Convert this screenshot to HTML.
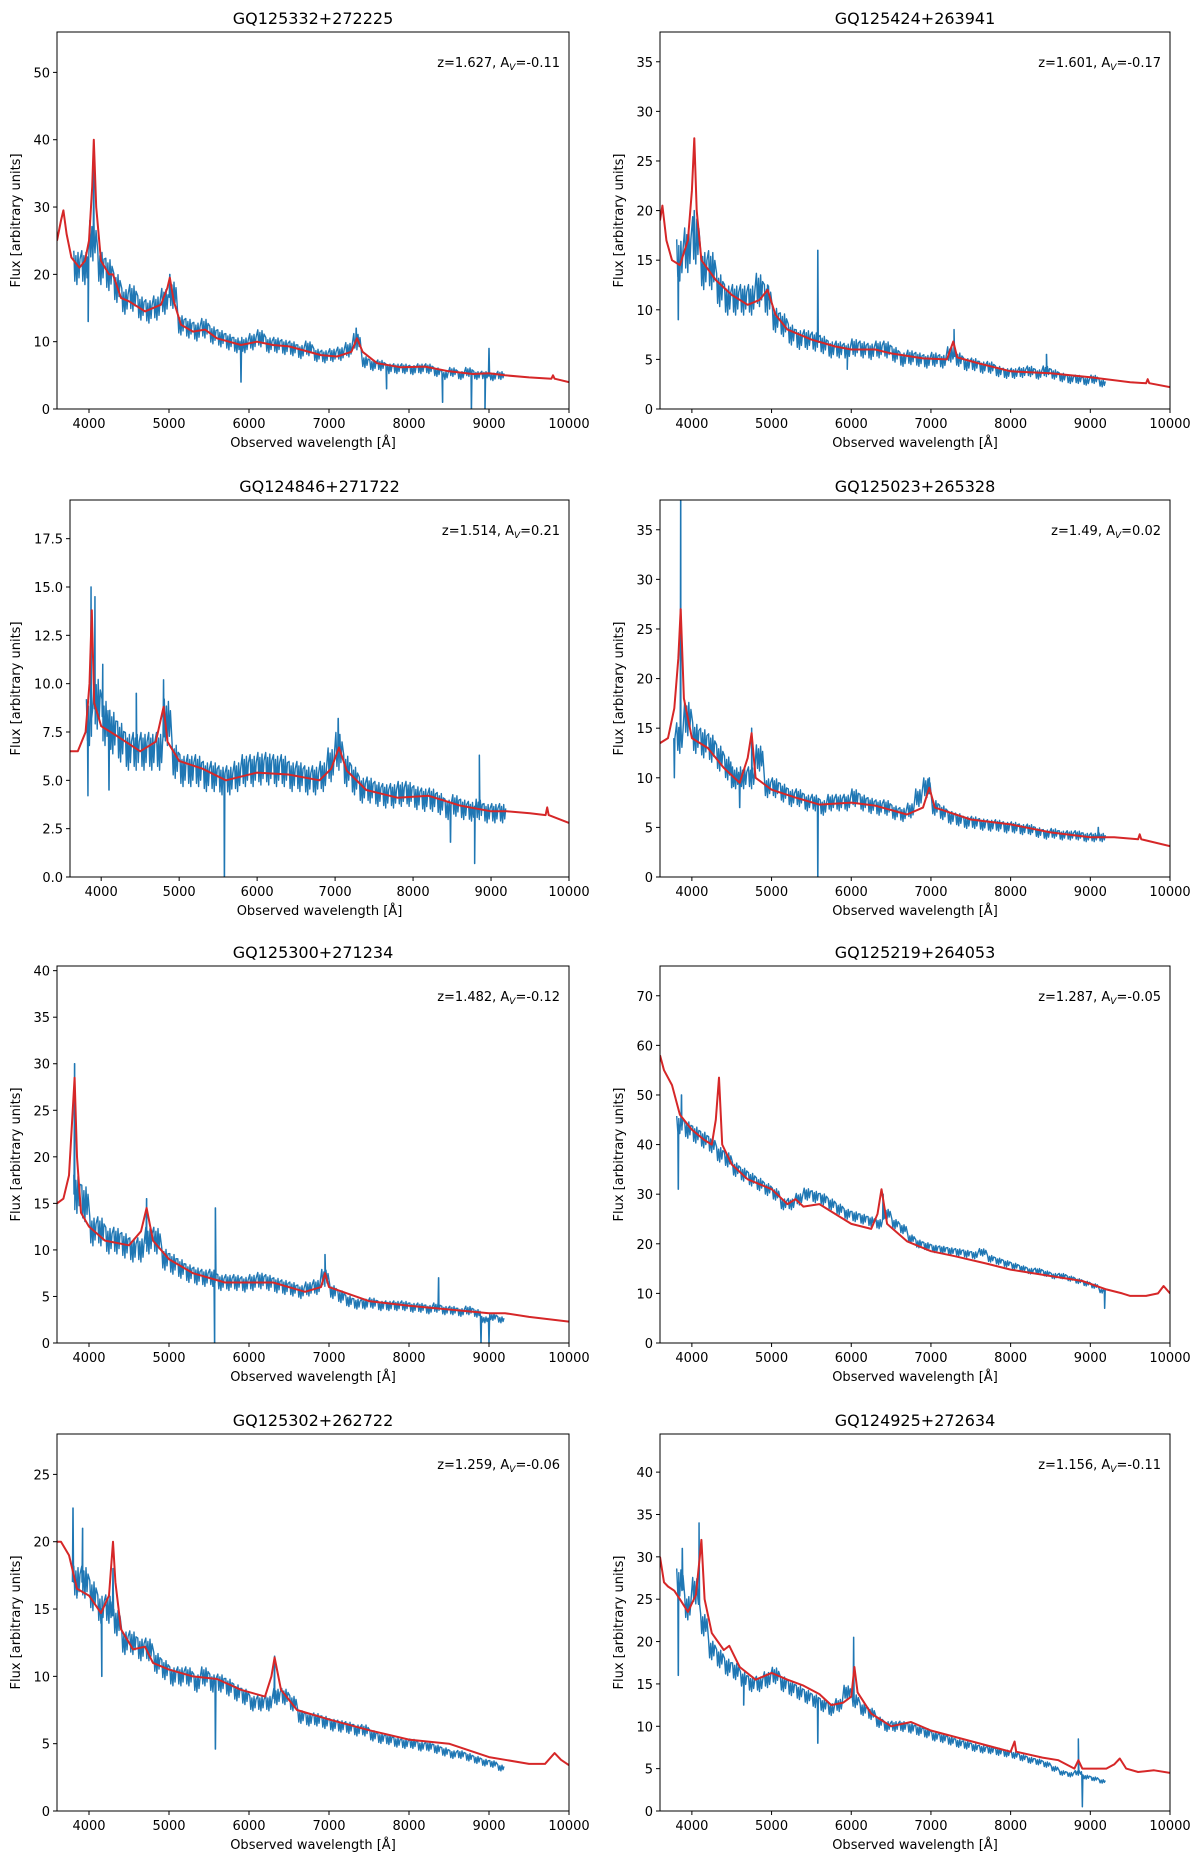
<!DOCTYPE html>
<html><head><meta charset="utf-8"><style>
html,body{margin:0;padding:0;background:#fff;}
svg{display:block;font-family:"DejaVu Sans","Liberation Sans",sans-serif;}
</style></head><body>
<svg id="fig" width="1200" height="1866" viewBox="0 0 1200 1866" xmlns="http://www.w3.org/2000/svg"></svg>
<script>
const titles=["GQ125332+272225","GQ125424+263941","GQ124846+271722","GQ125023+265328","GQ125300+271234","GQ125219+264053","GQ125302+262722","GQ124925+272634"];
const zLabels=["1.627","1.601","1.514","1.49","1.482","1.287","1.259","1.156"];
const avLabels=["-0.11","-0.17","0.21","0.02","-0.12","-0.05","-0.06","-0.11"];
const yMax=[56,38,19.5,38,40.5,76,28,44.5];
const yTicks=[[0,10,20,30,40,50],[0,5,10,15,20,25,30,35],[0,2.5,5,7.5,10,12.5,15,17.5],[0,5,10,15,20,25,30,35],[0,5,10,15,20,25,30,35,40],[0,10,20,30,40,50,60,70],[0,5,10,15,20,25],[0,5,10,15,20,25,30,35,40]];
const yTickDecimals=[0,0,1,0,0,0,0,0];
const xTicks=[4000,5000,6000,7000,8000,9000,10000];
const noiseFrac=[0.12,0.14,0.15,0.11,0.13,0.04,0.07,0.06];
const waveB=[3850,3950,4050,4150,4250,4350,4450,4550,4650,4750,
4850,4950,5050,5150,5250,5350,5450,5550,5650,5750,
5850,5950,6050,6150,6250,6350,6450,6550,6650,6750,
6850,6950,7050,7150,7250,7350,7450,7550,7650,7750,
7850,7950,8050,8150,8250,8350,8450,8550,8650,8750,
8850,8950,9050,9150];
const blue1=[21,21,25,21,20,18,16,16.5,15,14.5, 15,16,17,12.5,12,11.5,12,11,10.5,10, 9.5,9.5,10,10.5,9.5,9.5,9.2,9,8.5,9, 8,7.8,8,8.2,8.8,10,7,6.5,6.5,6, 6,6,5.8,6,6,5.5,5,5.5,5,5.5, 5,5,4.8,5];
const blue2=[15,16,17,14,14,12,11,11,11,11, 12,11,9,8.5,7.5,7,7,6.8,6.5,6, 6,5.8,6.2,6,5.8,6,6,5.5,5,5.2, 5,4.8,5,4.8,5.5,5,4.5,4.5,4.2,4.2, 3.8,3.6,3.6,3.7,3.8,3.5,3.8,3.5,3.2,3, 3,2.8,3,2.6];
const blue3=[8,9,8,7.5,7,6.5,6.5,6.5,6.5,6.5, 8,6,5.5,5.5,5.5,5.2,5.2,5,5,5.2, 5.5,5.5,5.6,5.6,5.5,5.5,5.2,5.2,5,5, 5.2,5.8,6.5,5.5,5,4.5,4.5,4.3,4.2,4.2, 4.3,4.3,4.1,4,4,3.8,3.5,3.7,3.5,3.4, 3.5,3.3,3.3,3.3];
const blue4=[14,16,14,13.5,13,12,11,10,10,10, 12,9,9,8.5,8,8,7.5,7.5,7,7.5, 7.5,7.5,8,7.5,7.2,7,7,6.5,6.3,6.7, 8,9,7,6.5,6,5.8,5.5,5.5,5.3,5.2, 5.2,5,5,4.8,4.8,4.5,4.3,4.4,4.2,4.2, 4.2,4,4,4];
const blue5=[16,15,12,12,11,11,10.5,10,10,11, 11,9,8.5,8,7.5,7.2,7,7,6.5,6.5, 6.5,6.3,6.5,6.7,6.5,6.2,6,5.8,5.5,5.8, 6,7,5.5,5,4.5,4.2,4.2,4.3,4,4, 4,4,3.8,3.8,3.6,3.8,3.5,3.5,3.3,3.5, 3.2,2.5,2.8,2.5];
const blue6=[44,43,42,41,40,38,37,35,34,33, 32,31,30,28,28,29,30,29.5,29,28, 27,26,25.5,25,24.5,24,26,24,23,21, 20,19.5,19,18.8,18.5,18.3,18,17.7,18.3,17, 16.5,16,15.5,15,14.5,14.5,14,13.5,13.5,13, 12.5,12,11.5,10.5];
const blue7=[17,17,16,15,15,14,12.5,12.5,12,12, 11,10.5,10,10,10,9.5,10,9.5,9.5,9.2, 8.8,8.5,8,8,8,8.5,8.5,8,7,6.8, 6.8,6.6,6.4,6.3,6.2,6,6,5.6,5.4,5.3, 5.1,5,5,4.8,4.8,4.6,4.4,4.2,4.2,4, 3.8,3.6,3.5,3.2];
const blue8=[27,24,26,22,19,18,17,16.5,15.5,15, 15,15.5,16,15,14.5,14,13.5,13,12.5,12, 12.5,14,13,12,11.5,10.5,10,10,10,9.8, 9.5,9.2,8.8,8.6,8.3,8,7.8,7.5,7.3,7.2, 7,6.8,6.6,6.3,6,5.8,5.5,5,4.5,4.3, 4.5,4,3.8,3.5];
const blueSeries=[blue1,blue2,blue3,blue4,blue5,blue6,blue7,blue8];
const spikeW1=[3990,4060,5010,5900,7340,7720,8420,8780,8950,9000];
const spikeF1=[13,36,20,4,12,3,1,0,0,9];
const spikeW2=[3830,4030,4950,5580,5950,7290,8450];
const spikeF2=[9,20,12.5,16,4,8,5.5];
const spikeW3=[3830,3870,3920,4020,4100,4450,4800,5580,7040,8480,8790,8850];
const spikeF3=[4.2,15,14.5,11,4.5,9.5,10.2,0,8.2,1.8,0.7,6.3];
const spikeW4=[3780,3860,4500,4600,4750,5580,6980,9100];
const spikeF4=[10,38,9,7,15,0,10,5];
const spikeW5=[3820,4720,5570,5580,6950,8370,8900,9000];
const spikeF5=[30,15.5,0,14.5,9.5,7,0,0];
const spikeW6=[3830,3870,6400,9180];
const spikeF6=[31,50,30,7];
const spikeW7=[3800,3850,3920,4160,4300,5580,6320];
const spikeF7=[22.5,16,21,10,18,4.6,11.5];
const spikeW8=[3830,3880,4090,4650,5580,6030,8850,8900];
const spikeF8=[16,31,34,12.5,8,20.5,8.5,0.5];
const spikeWaves=[spikeW1,spikeW2,spikeW3,spikeW4,spikeW5,spikeW6,spikeW7,spikeW8];
const spikeFluxes=[spikeF1,spikeF2,spikeF3,spikeF4,spikeF5,spikeF6,spikeF7,spikeF8];
const redW1=[3600,3650,3680,3720,3780,3880,3950,4000,4040,4060,4090,4150,4250,4300,4400,4500,4700,4900,4980,5010,5060,5150,5300,5450,5600,5900,6100,6300,6500,6900,7100,7280,7350,7420,7600,7900,8200,8500,8800,9000,9200,9500,9780,9800,9820,10000];
const redF1=[25,28,29.5,26,22.5,21,22,25,33,40,30,22,20,20,16.5,16,14.5,15.5,18,19.5,16,12.5,11.5,11.8,10.5,9.5,10,9.5,9.3,8,7.8,8.5,10.5,8.5,6.8,6.2,6.3,5.6,5.2,5.3,5,4.7,4.5,5,4.5,4];
const redW2=[3600,3630,3680,3750,3850,3950,4000,4030,4060,4120,4300,4500,4700,4850,4950,5050,5200,5500,5800,6000,6300,6500,6900,7200,7280,7330,7600,8000,8500,9000,9200,9500,9700,9720,9740,10000];
const redF2=[19,20.5,17,15,14.5,17,22,27.3,20,15,13,11.5,10.5,11,12,9.5,8,7,6.3,6,6,5.6,5.1,5,6.8,5.2,4.6,3.8,3.6,3.2,3,2.7,2.6,3,2.6,2.2];
const redW3=[3600,3700,3800,3850,3880,3910,4000,4200,4500,4700,4800,4850,5000,5300,5600,6000,6400,6800,6950,7050,7150,7400,7800,8200,8600,9000,9200,9500,9700,9720,9740,10000];
const redF3=[6.5,6.5,7.5,10,13.8,9,7.8,7.3,6.5,7,8.8,7,6,5.6,5,5.4,5.3,5,5.6,6.7,5.5,4.5,4.1,4.2,3.7,3.4,3.4,3.3,3.2,3.6,3.2,2.8];
const redW4=[3600,3700,3780,3830,3860,3900,4000,4200,4400,4600,4700,4750,4800,5000,5300,5600,6000,6300,6700,6900,6980,7050,7500,8000,8500,9000,9300,9600,9620,9640,10000];
const redF4=[13.5,14,17,22,27,18,14,13,11,9.5,12,14.5,10,8.8,8,7.3,7.5,7.2,6.3,7,9,7,5.8,5.3,4.5,4,4,3.8,4.3,3.8,3.1];
const redW5=[3600,3680,3750,3790,3820,3850,3900,4000,4200,4500,4650,4720,4800,5000,5300,5700,6000,6300,6700,6900,6950,7000,7500,8000,8500,9000,9200,9500,10000];
const redF5=[15,15.5,18,24,28.5,20,14,12.5,11,10.5,12,14.5,11,9,7.5,6.5,6.5,6.5,5.5,6,7.5,6,4.5,4,3.6,3.2,3.2,2.8,2.3];
const redW6=[3600,3650,3750,3850,4000,4150,4250,4300,4340,4380,4500,4700,5000,5200,5300,5400,5600,5800,6000,6250,6330,6380,6450,6700,7000,7300,7700,8000,8500,8900,9200,9400,9500,9700,9850,9920,10000];
const redF6=[58,55,52,46,43,41,40,45,53.5,40,36,33,31,28,29,27.5,28,26,24,23,26,31,24,20.5,18.5,17.5,16,14.8,13.5,12.5,10.8,10,9.5,9.5,10,11.5,10];
const redW7=[3600,3650,3750,3850,4000,4150,4250,4300,4330,4400,4550,4700,4800,5000,5300,5600,5900,6200,6280,6320,6400,6600,7000,7500,8000,8500,9000,9200,9500,9700,9820,9900,10000];
const redF7=[20,20,19,16.5,16,14.7,16,20,17,13.5,12,12.2,11,10.5,10,9.8,9,8.5,10,11.4,9,7.5,6.8,6,5.3,5,4,3.8,3.5,3.5,4.3,3.8,3.4];
const redW8=[3600,3650,3700,3780,3850,3950,4050,4100,4120,4160,4250,4400,4470,4600,4800,5000,5200,5400,5600,5750,5900,6000,6040,6080,6250,6500,6750,7000,7400,7800,8000,8050,8070,8400,8600,8800,8850,8900,9200,9300,9370,9450,9600,9800,10000];
const redF8=[30,27,26.5,26,25,23.5,25.5,30,32,25,21,19,19.5,17,15.5,16.3,15.5,14.8,13.8,12.5,12.8,13.5,17,14,11.5,10,10.5,9.5,8.5,7.5,7,8.2,7,6.3,6,5,6,5,5,5.5,6.2,5,4.6,4.8,4.5];
const redWaves=[redW1,redW2,redW3,redW4,redW5,redW6,redW7,redW8];
const redFluxes=[redF1,redF2,redF3,redF4,redF5,redF6,redF7,redF8];

const NS="http://www.w3.org/2000/svg";
const svg=document.getElementById('fig');
const colL=[[57,569],[70,569],[57,569],[57,569]];
const colR=[660,1170];
const rowTop=[32,500,966,1434];
const axH=377;
const XMIN=3600,XMAX=10000;
function mk(tag,attrs,parent){const e=document.createElementNS(NS,tag);for(const k in attrs)e.setAttribute(k,attrs[k]);(parent||svg).appendChild(e);return e;}
function interp(ws,fs,w){if(w<=ws[0])return fs[0];for(let k=1;k<ws.length;k++){if(w<=ws[k]){const t=(w-ws[k-1])/(ws[k]-ws[k-1]);return fs[k-1]+t*(fs[k]-fs[k-1]);}}return fs[fs.length-1];}

for(let i=0;i<8;i++){
  const row=Math.floor(i/2),col=i%2;
  const x0=col===0?colL[row][0]:colR[0];
  const x1=col===0?colL[row][1]:colR[1];
  const y0=rowTop[row],y1=rowTop[row]+axH;
  const sx=v=>x0+(v-XMIN)/(XMAX-XMIN)*(x1-x0);
  const sy=v=>y1-v/yMax[i]*(y1-y0);
  const g=mk('g',{});
  
  
  const clipId='clip'+i;
  const cp=mk('clipPath',{id:clipId},g);
  mk('rect',{x:x0,y:y0,width:x1-x0,height:y1-y0},cp);
  const b=blueSeries[i],nf=noiseFrac[i];
  const pts=[];
  for(let k=0;k<waveB.length;k++){
    const w=waveB[k],v=b[k],a=v*nf;
    [[-40,1],[-27,-0.8],[-14,0.7],[-1,-1],[12,0.9],[25,-0.6],[38,0.5]].forEach(o=>pts.push([w+o[0],v+a*o[1]]));
  }
  const sw=spikeWaves[i],sf=spikeFluxes[i];
  for(let k=0;k<sw.length;k++){
    const base=interp(waveB,b,sw[k]);
    pts.push([sw[k]-7,base],[sw[k]-1,sf[k]],[sw[k]+1,sf[k]],[sw[k]+7,base]);
  }
  pts.sort((p,q)=>p[0]-q[0]);
  let d='';
  pts.forEach((p,j)=>{d+=(j?'L':'M')+sx(p[0]).toFixed(1)+' '+sy(p[1]).toFixed(1);});
  const bl=mk('path',{d:d,fill:'none',stroke:'#1f77b4','stroke-width':1.4,'stroke-linejoin':'round','clip-path':'url(#'+clipId+')'},g);
  
  
  d='';
  const rw=redWaves[i],rf=redFluxes[i];
  for(let k=0;k<rw.length;k++){d+=(k?'L':'M')+sx(rw[k]).toFixed(1)+' '+sy(rf[k]).toFixed(1);}
  const rl=mk('path',{d:d,fill:'none',stroke:'#d62728','stroke-width':2,'stroke-linejoin':'round','clip-path':'url(#'+clipId+')'},g);
  
  
  const fr=mk('rect',{x:x0,y:y0,width:x1-x0,height:y1-y0,fill:'none',stroke:'#000','stroke-width':1},g);
  
  
  xTicks.forEach(t=>{
    const x=sx(t);
    mk('line',{x1:x,x2:x,y1:y1,y2:y1+4,stroke:'#000','stroke-width':1},g);
    const tx=mk('text',{x:x,y:y1+19,'font-size':13,'text-anchor':'middle',fill:'#000'},g);
    tx.textContent=t;
    
    
  });
  yTicks[i].forEach(t=>{
    const y=sy(t);
    mk('line',{x1:x0-4,x2:x0,y1:y,y2:y,stroke:'#000','stroke-width':1},g);
    const tx=mk('text',{x:x0-7,y:y+5,'font-size':13,'text-anchor':'end',fill:'#000'},g);
    tx.textContent=t.toFixed(yTickDecimals[i]);
    
    
  });
  const xl=mk('text',{x:(x0+x1)/2,y:y1+38,'font-size':13,'text-anchor':'middle',fill:'#000'},g);
  xl.textContent='Observed wavelength [Å]';
  
  
  const ylx=col===0?20:623;
  const yl=mk('text',{x:ylx,y:(y0+y1)/2,'font-size':13,'text-anchor':'middle',fill:'#000',transform:'rotate(-90 '+ylx+' '+((y0+y1)/2)+')'},g);
  yl.textContent='Flux [arbitrary units]';
  
  
  const tt=mk('text',{x:(x0+x1)/2,y:y0-8,'font-size':16,'text-anchor':'middle',fill:'#000'},g);
  tt.textContent=titles[i];
  
  
  const an=mk('text',{x:x1-9,y:y0+35,'font-size':13,'text-anchor':'end',fill:'#000'},g);
  
  
  const s1=mk('tspan',{},an);s1.textContent='z='+zLabels[i]+', A';
  const s2=mk('tspan',{'font-size':9,dy:3,'font-style':'italic'},an);s2.textContent='V';
  const s3=mk('tspan',{dy:-3},an);s3.textContent='='+avLabels[i];
}
</script>
</body></html>
